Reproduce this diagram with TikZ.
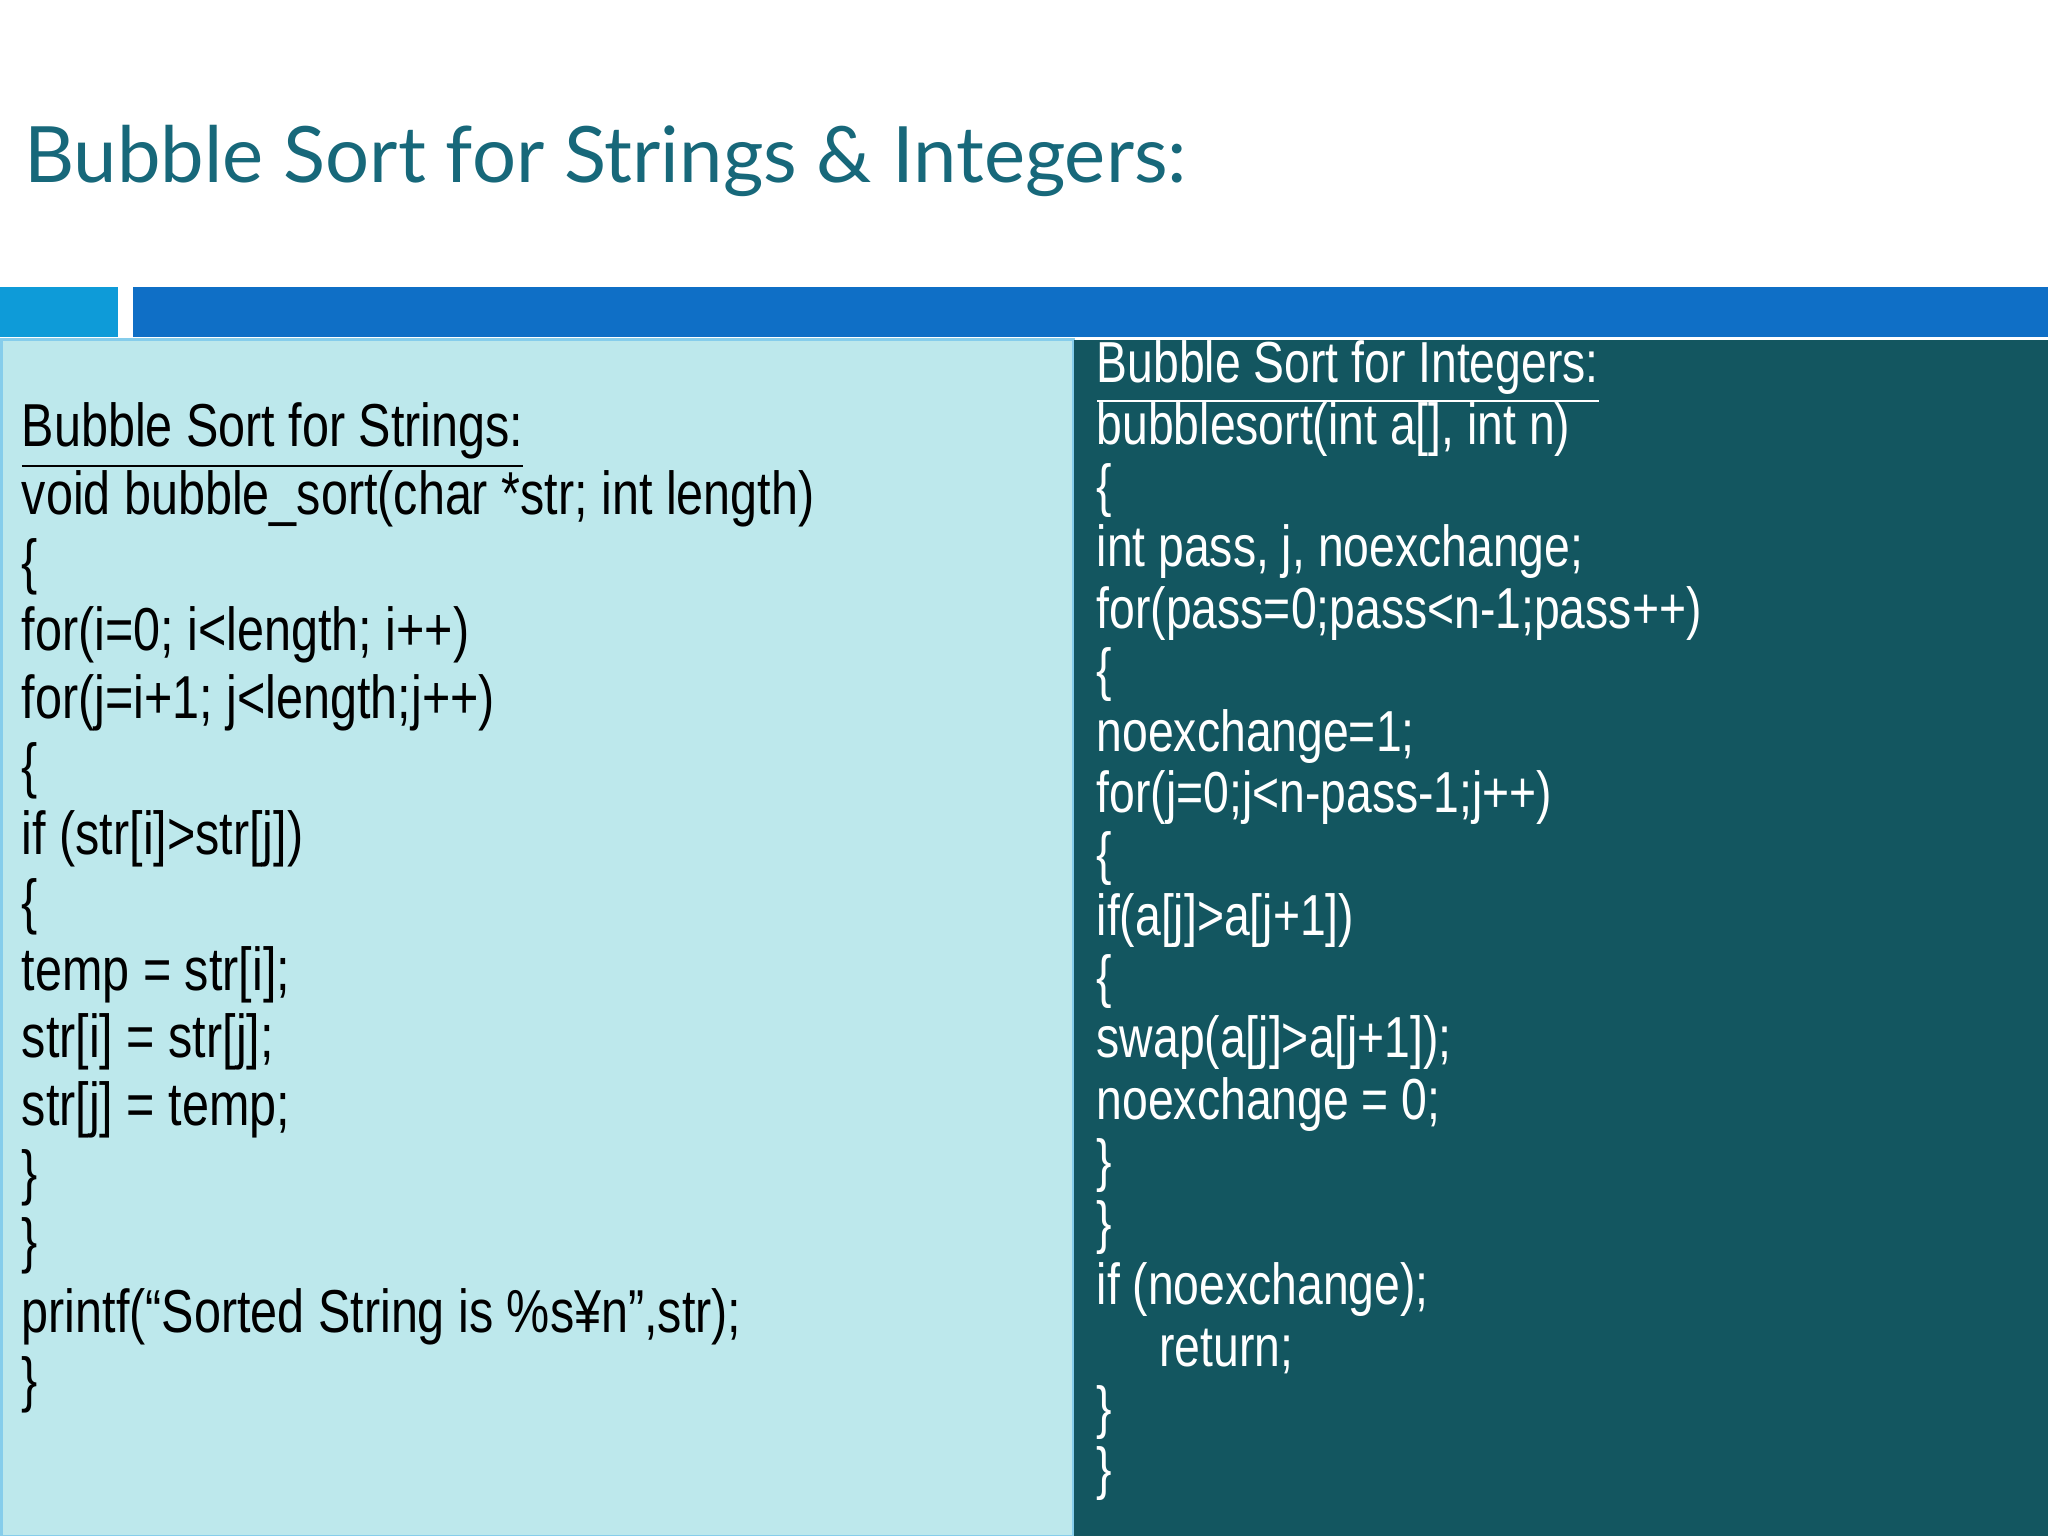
\documentclass[tikz,border=0pt]{standalone}
\usepackage{fontspec}
\setmainfont{Liberation Sans}[FakeStretch=0.8]
\newfontfamily\titlefont{Lato}
\definecolor{titlec}{HTML}{17687A}
\definecolor{barA}{HTML}{0E9BD8}
\definecolor{barB}{HTML}{0F6FC6}
\definecolor{lpan}{HTML}{BDE8EC}
\definecolor{rpan}{HTML}{135660}
\begin{document}
\begin{tikzpicture}[x=0.01cm,y=-0.01cm,
  lcode/.style={anchor=base west,inner sep=0pt,font=\fontsize{13.2}{15}\selectfont,text=black},
  rcode/.style={anchor=base west,inner sep=0pt,font=\fontsize{12.6}{15}\selectfont,text=white}]
\useasboundingbox (0,0) rectangle (1568,1176);
\fill[white] (0,0) rectangle (1568,1176);
\node[anchor=base west,inner sep=0pt,text=titlec] (title) at (18,140) {\resizebox{890\dimexpr0.01cm}{!}{\titlefont Bubble Sort for Strings \& Integers:}};
\fill[barA] (0,220) rectangle (90,258);
\fill[barB] (102,220) rectangle (1568,258);
\fill[lpan,draw=barA!50,line width=0.6pt] (1,260) rectangle (822,1176);
\fill[rpan] (822,260) rectangle (1568,1176);
% left code
\node[lcode] (l1) at (16,342) {\underline{Bubble Sort for Strings:}};
\node[lcode] (l2) at (16,394) {void bubble\_sort(char *str; int length)};
\node[lcode] (l3) at (16,446) {\{};
\node[lcode] (l4) at (16,498) {for(i=0; i<length; i++)};
\node[lcode] (l5) at (16,550) {for(j=i+1; j<length;j++)};
\node[lcode] (l6) at (16,602) {\{};
\node[lcode] (l7) at (16,654) {if (str[i]>str[j])};
\node[lcode] (l8) at (16,706) {\{};
\node[lcode] (l9) at (16,758) {temp = str[i];};
\node[lcode] (l10) at (16,810) {str[i] = str[j];};
\node[lcode] (l11) at (16,862) {str[j] = temp;};
\node[lcode] (l12) at (16,914) {\}};
\node[lcode] (l13) at (16,966) {\}};
\node[lcode] (l14) at (16,1020) {printf(“Sorted String is \%s¥n”,str);};
\node[lcode] (l15) at (16,1072) {\}};
% right code
\node[rcode] (r1) at (839,293) {\underline{Bubble Sort for Integers:}};
\node[rcode] (r2) at (839,340) {bubblesort(int a[], int n)};
\node[rcode] (r3) at (839,387) {\{};
\node[rcode] (r4) at (839,434) {int pass, j, noexchange;};
\node[rcode] (r5) at (839,481) {for(pass=0;pass<n-1;pass++)};
\node[rcode] (r6) at (839,528) {\{};
\node[rcode] (r7) at (839,575) {noexchange=1;};
\node[rcode] (r8) at (839,622) {for(j=0;j<n-pass-1;j++)};
\node[rcode] (r9) at (839,669) {\{};
\node[rcode] (r10) at (839,716) {if(a[j]>a[j+1])};
\node[rcode] (r11) at (839,763) {\{};
\node[rcode] (r12) at (839,810) {swap(a[j]>a[j+1]);};
\node[rcode] (r13) at (839,857) {noexchange = 0;};
\node[rcode] (r14) at (839,904) {\}};
\node[rcode] (r15) at (839,951) {\}};
\node[rcode] (r16) at (839,999) {if (noexchange);};
\node[rcode] (r17) at (887,1046) {return;};
\node[rcode] (r18) at (839,1093) {\}};
\node[rcode] (r19) at (839,1140) {\}};
\end{tikzpicture}
\end{document}
